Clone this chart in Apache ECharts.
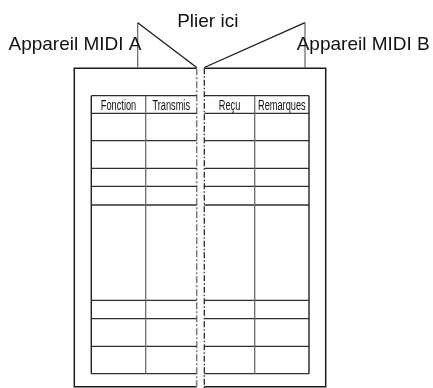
<!DOCTYPE html>
<html>
<head>
<meta charset="utf-8">
<script src="https://cdn.jsdelivr.net/npm/echarts@6/dist/echarts.min.js"></script>
<style>
html,body{margin:0;padding:0;background:#fff;}
#chart{width:433px;height:388px;}
</style>
</head>
<body>
<div id="chart"></div>
<script>
// Diagram data (in the drawing's own coordinate space, mapped via hidden value axes)
const pageEdgesX = [74.3, 196.7, 204.3, 325.7];   // page A left, fold A, fold B, page B right
const pageEdgesY = [68.3, 386.7];                 // page top, page bottom
const foldLineBottom = 388;
const tableColsA = [91.3, 145.7, 196.7];
const tableColsB = [204.3, 254.7, 309];
const tableRows = [95.7, 113.3, 140.7, 168.3, 186.3, 205, 300.3, 318.7, 346.3, 373.7];
const headers = ['Fonction', 'Transmis', 'Reçu', 'Remarques'];
const flapPeaksX = [137.7, 305];
const flapPeakY = 22.7;
const flapFoldY = 67.5;
const titles = ['Appareil MIDI A', 'Plier ici', 'Appareil MIDI B'];
const titleBaselines = [[8.5, 50.5], [207.8, 27.6], [296.7, 50.5]];

// Build line segments from the data
const segs = [];
function add(points, kind) { segs.push({ points: points, kind: kind }); }
// page outlines
add([[pageEdgesX[1], pageEdgesY[0]], [pageEdgesX[0], pageEdgesY[0]], [pageEdgesX[0], pageEdgesY[1]], [pageEdgesX[1], pageEdgesY[1]]], 'page');
add([[pageEdgesX[2], pageEdgesY[0]], [pageEdgesX[3], pageEdgesY[0]], [pageEdgesX[3], pageEdgesY[1]], [pageEdgesX[2], pageEdgesY[1]]], 'page');
// fold lines
add([[pageEdgesX[1], pageEdgesY[0]], [pageEdgesX[1], foldLineBottom]], 'foldA');
add([[pageEdgesX[2], pageEdgesY[0]], [pageEdgesX[2], foldLineBottom]], 'foldB');
// flaps
add([[flapPeaksX[0], pageEdgesY[0]], [flapPeaksX[0], flapPeakY]], 'flapV');
add([[flapPeaksX[0], flapPeakY], [pageEdgesX[1], flapFoldY]], 'flapD');
add([[pageEdgesX[2], flapFoldY], [flapPeaksX[1], flapPeakY]], 'flapD');
add([[flapPeaksX[1], flapPeakY], [flapPeaksX[1], pageEdgesY[0]]], 'flapV');
// tables
[tableColsA, tableColsB].forEach(function (cols, t) {
  const top = tableRows[0], bot = tableRows[tableRows.length - 1];
  tableRows.forEach(function (r) {
    add([[cols[0], r], [cols[cols.length - 1], r]], 'row');
  });
  const outer = t === 0 ? cols[0] : cols[cols.length - 1];
  add([[outer, top], [outer, bot]], 'tableEdge');
  add([[cols[1], top], [cols[1], bot]], 'col');
});

// Text items (y = baseline)
const texts = [];
titles.forEach(function (s, i) {
  texts.push({ text: s, x: titleBaselines[i][0], y: titleBaselines[i][1], align: i === 1 ? 'center' : 'left', size: 19, sx: 1 });
});
const headerCells = [[tableColsA[0], tableColsA[1]], [tableColsA[1], tableColsA[2]], [tableColsB[0], tableColsB[1]], [tableColsB[1], tableColsB[2]]];
headers.forEach(function (h, i) {
  texts.push({ text: h, x: (headerCells[i][0] + headerCells[i][1]) / 2, y: tableRows[1] - 3, align: 'center', size: 14, sx: 0.66 });
});

const styles = {
  page: { stroke: '#1a1a1a', lineWidth: 1.5 },
  foldA: { stroke: '#7a7a7a', lineWidth: 1.5, lineDash: [7, 2, 2, 2] },
  foldB: { stroke: '#2a2a2a', lineWidth: 1.3, lineDash: [6, 2, 1.5, 2] },
  flapV: { stroke: '#555', lineWidth: 1.1 },
  flapD: { stroke: '#1a1a1a', lineWidth: 1.3 },
  row: { stroke: '#2e2e2e', lineWidth: 1.3 },
  tableEdge: { stroke: '#222', lineWidth: 1.4 },
  col: { stroke: '#6a6a6a', lineWidth: 1.3 }
};

const chart = echarts.init(document.getElementById('chart'), null, { renderer: 'canvas' });
chart.setOption({
  animation: false,
  backgroundColor: '#fff',
  grid: { left: 0, right: 0, top: 0, bottom: 0 },
  xAxis: { type: 'value', min: 0, max: 433, show: false },
  yAxis: { type: 'value', min: 0, max: 388, inverse: true, show: false },
  series: [
    {
      type: 'custom',
      clip: false,
      data: segs.map(function (s, i) { return [i]; }),
      renderItem: function (params, api) {
        const s = segs[api.value(0)];
        const pts = s.points.map(function (p) { return api.coord(p); });
        return {
          type: 'polyline',
          shape: { points: pts },
          style: Object.assign({ fill: null }, styles[s.kind])
        };
      }
    },
    {
      type: 'custom',
      clip: false,
      data: texts.map(function (t, i) { return [i]; }),
      renderItem: function (params, api) {
        const t = texts[api.value(0)];
        const p = api.coord([t.x, t.y]);
        return {
          type: 'text',
          x: p[0],
          y: p[1] + t.size * 0.21,
          scaleX: t.sx,
          style: {
            text: t.text,
            fill: '#111',
            font: t.size + 'px "Liberation Sans", Arial, Helvetica, sans-serif',
            textAlign: t.align,
            textVerticalAlign: 'bottom'
          }
        };
      }
    }
  ]
});
</script>
</body>
</html>
